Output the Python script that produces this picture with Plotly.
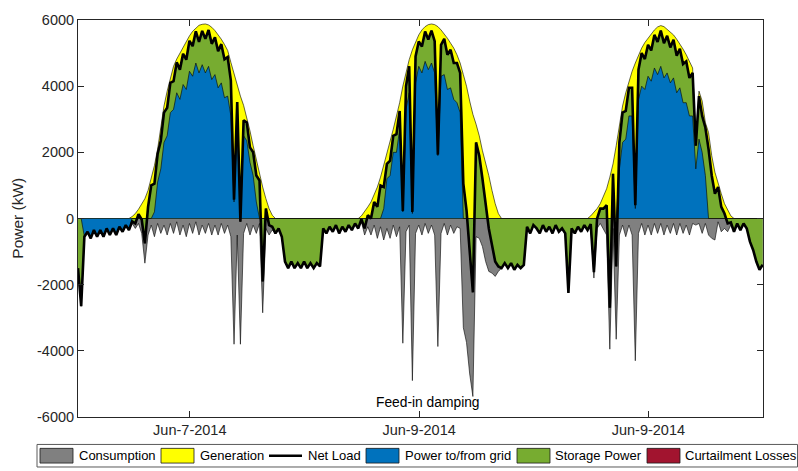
import plotly.graph_objects as go

# ---- data (20-minute samples over three days, hours from start) ----
hours = [i / 3 for i in range(216)]

generation = (
    [0] * 16 +
    [0, 60, 150, 280, 420, 600, 850, 1200, 1600, 2100, 2800, 3400, 3850, 4250, 4600, 4820,
     5000, 5180, 5350, 5520, 5660, 5760, 5840, 5870, 5880, 5850, 5780, 5680, 5560, 5420,
     5260, 5080, 4720, 4370, 4020, 3700, 3420, 3050, 2650, 2200, 1750, 1300, 950, 600, 300, 100, 0] +
    [0] * 9 +
    [0] * 16 +
    [0, 80, 200, 350, 500, 700, 950, 1250, 1600, 1950, 2350, 2700, 3100, 3500, 4000, 4400,
     4800, 5100, 5350, 5550, 5700, 5800, 5860, 5880, 5860, 5800, 5700, 5580, 5450, 5300,
     5150, 4950, 4700, 4350, 4000, 3550, 3150, 2850, 2500, 2050, 1700, 1300, 850, 450, 150, 0] +
    [0] * 10 +
    [0] * 16 +
    [0, 80, 180, 300, 450, 650, 900, 1250, 1650, 2200, 2800, 3400, 3800, 4150, 4450, 4700,
     4950, 5150, 5320, 5450, 5580, 5700, 5790, 5830, 5800, 5720, 5620, 5550, 5420, 5280,
     5120, 4950, 4750, 4550, 2400, 3850, 3550, 2900, 2600, 1900, 1400, 1050, 750, 450, 250, 80, 0] +
    [0] * 9
)

consumption = [
    # day 1
    -1500, -2650, -550, -400, -600, -350, -550, -350, -550, -300, -500, -300, -500, -250, -400, -200,
    -350, -150, -300, -150, -450, -1350, -500, -200, -550, -150, -450, -200, -500, -150, -450, -100,
    -500, -200, -550, -150, -450, -100, -500, -200, -450, -150, -500, -200, -500, -150, -450, -200,
    -550, -3800, -500, -3800, -450, -150, -500, -200, -450, -150, -2850, -300, -500, -350, -450, -300,
    -550, -1300, -1500, -1300, -1500, -1350, -1500, -1300,
    # day 2
    -1500, -1350, -1500, -1350, -1450, -300, -450, -250, -400, -200, -450, -250, -400, -200, -350, -150,
    -300, -100, -500, -250, -500, -200, -600, -250, -650, -300, -600, -200, -550, -250, -3770, -400,
    -200, -4900, -450, -200, -500, -150, -450, -200, -500, -3870, -450, -150, -500, -200, -450, -250,
    -300, -3300, -3750, -4700, -5380, -550, -600, -850, -1300, -1600, -1650, -1750, -1600, -1500, -1350, -1500,
    -1350, -1550, -1400, -1500, -1400, -250, -450, -200,
    # day 3
    -300, -450, -200, -400, -250, -450, -200, -400, -300, -450, -2250, -300, -450, -250, -400, -200,
    -350, -250, -1800, -300, -150, -350, -500, -3950, -300, -3650, -500, -200, -550, -200, -500, -4300,
    -450, -150, -500, -200, -500, -150, -450, -150, -500, -200, -450, -150, -500, -150, -450, -200,
    -500, -150, -200, -150, -450, -150, -500, -600, -650, -100, -400, -300, -400, -200, -400, -150,
    -350, -150, -300, -700, -950, -1300, -1550, -1400,
]

net_load = [
    # day 1
    -1500, -2650, -550, -400, -600, -350, -550, -350, -550, -300, -500, -300, -500, -250, -400, -200,
    -350, -90, -150, 130, -30, -750, 350, 1000, 1050, 1950, 2350, 3200, 3350, 4100, 4150, 4720,
    4500, 4980, 4800, 5370, 5210, 5660, 5340, 5670, 5430, 5700, 5280, 5480, 5060, 5270, 4810, 4880,
    4170, 570, 3520, -100, 2970, 2900, 2150, 2000, 1300, 1150, -1900, 300, -200, -250, -450, -300,
    -550, -1300, -1500, -1300, -1500, -1350, -1500, -1300,
    # day 2
    -1500, -1350, -1500, -1350, -1450, -300, -450, -250, -400, -200, -450, -250, -400, -200, -350, -150,
    -300, -20, -300, 100, 0, 500, 350, 1000, 950, 1650, 1750, 2500, 2550, 3250, 230, 4000,
    4600, 200, 4900, 5350, 5200, 5650, 5410, 5680, 5360, 1930, 5250, 5430, 4950, 5100, 4700, 4700,
    4400, 1050, 250, -1150, -2230, 2300, 1900, 1200, 400, -300, -800, -1300, -1450, -1500, -1350, -1500,
    -1350, -1550, -1400, -1500, -1400, -250, -450, -200,
    # day 3
    -300, -450, -200, -400, -250, -450, -200, -400, -300, -450, -2250, -300, -450, -250, -400, -200,
    -350, -170, -1620, 0, 300, 300, 400, -2700, 1350, -1450, 2300, 3200, 3250, 3950, 3950, 400,
    4500, 5000, 4820, 5250, 5080, 5550, 5340, 5680, 5300, 5520, 5170, 5400, 4920, 5130, 4670, 4750,
    4250, 4400, 2200, 3700, 3100, 2750, 2100, 1300, 750, 950, 350, 150, -150, -120, -400, -150,
    -350, -150, -300, -700, -950, -1300, -1550, -1400,
]

grid_power = (
    [0, 0, -550, -400, -600, -350, -550, -350, -550, -300, -500, -300, -500, -250, -400, -200, -350] +
    [0] * 7 +
    [200, 1100, 1500, 2300, 2500, 3200, 3300, 3800, 3600, 4050, 3900, 4450, 4300, 4700, 4400, 4650,
     4400, 4600, 4200, 4350, 3950, 4100, 3650, 3700, 3100, 500, 2900, 0, 2500, 2350, 1700, 1300, 500] +
    [0] * 15 +
    [0] * 24 +
    [300, 1200, 1300, 2000, 2000, 2700, 200, 3300, 3800, 150, 4100, 4600, 4400, 4750, 4500, 4700,
     4400, 1900, 4300, 4350, 3900, 3950, 3600, 3500, 3200] +
    [0] * 23 +
    [0] * 26 +
    [1500, 2300, 2400, 3100, 3100, 300, 3600, 4000, 3900, 4300, 4150, 4550, 4350, 4600, 4250, 4400,
     4100, 4250, 3800, 3950, 3500, 3500, 3100, 3100, 1500, 2400, 2000, 1300] +
    [0] * 18
)

curtailment = [0] * 216

tick_hours = [11.7, 35.7, 59.7]
tick_labels = ["Jun-7-2014", "Jun-9-2014", "Jun-9-2014"]
y_ticks = [-6000, -4000, -2000, 0, 2000, 4000, 6000]
y_labels = ["-6000", "-4000", "-2000", "0", "2000", "4000", "6000"]

# ---- styling ----
FONT = "Liberation Sans, Arial, Helvetica, sans-serif"
C_CONS = "#808080"
C_GEN = "#FFFF00"
C_GRID = "#0072BD"
C_STOR = "#77AC30"
C_CURT = "#A2142F"
AX = "#262626"
EDGE = dict(color="black", width=0.6)

fig = go.Figure()
fig.add_trace(go.Scatter(x=hours, y=generation, name="Generation", mode="lines",
                         fill="tozeroy", fillcolor=C_GEN, line=EDGE, showlegend=False))
fig.add_trace(go.Scatter(x=hours, y=consumption, name="Consumption", mode="lines",
                         fill="tozeroy", fillcolor=C_CONS, line=EDGE, showlegend=False))
fig.add_trace(go.Scatter(x=hours, y=net_load, name="Storage Power", mode="lines",
                         fill="tozeroy", fillcolor=C_STOR, line=EDGE, showlegend=False))
fig.add_trace(go.Scatter(x=hours, y=grid_power, name="Power to/from grid", mode="lines",
                         fill="tozeroy", fillcolor=C_GRID, line=EDGE, showlegend=False))
fig.add_trace(go.Scatter(x=hours, y=curtailment, name="Curtailment Losses", mode="lines",
                         fill="tozeroy", fillcolor=C_CURT, line=EDGE, showlegend=False))
fig.add_trace(go.Scatter(x=hours, y=net_load, name="Net Load", mode="lines",
                         line=dict(color="black", width=2.6), showlegend=False))

# ---- layout ----
L, R, T, B = 78, 35, 12, 54
W, H = 798, 471
PW, PH = W - L - R, H - T - B


def px(x):
    return (x - L) / PW


def py(y):
    return (H - B - y) / PH


fig.update_layout(
    width=W, height=H, autosize=False,
    margin=dict(l=L, r=R, t=T, b=B, pad=0),
    paper_bgcolor="white", plot_bgcolor="white",
    font=dict(family=FONT, color=AX, size=14.5),
    xaxis=dict(range=[0, 71.7], tickvals=tick_hours, ticktext=tick_labels,
               ticks="inside", ticklen=6, tickcolor=AX, tickwidth=1,
               showline=True, linecolor=AX, linewidth=1, mirror="ticks",
               showgrid=False, zeroline=False, tickfont=dict(size=14.5, color=AX)),
    yaxis=dict(range=[-6000, 6000], tickvals=y_ticks, ticktext=y_labels,
               ticks="inside", ticklen=6, tickcolor=AX, tickwidth=1,
               showline=True, linecolor=AX, linewidth=1, mirror="ticks",
               showgrid=False, zeroline=False, tickfont=dict(size=14.5, color=AX)),
    showlegend=False,
)

annotations = [
    dict(text="Power (kW)", x=px(18), y=py(214.7), xref="paper", yref="paper",
         textangle=-90, showarrow=False, font=dict(size=15.5, color=AX),
         xanchor="center", yanchor="middle"),
    dict(text="Feed-in damping", x=px(428), y=py(402.5), xref="paper", yref="paper",
         showarrow=False, font=dict(size=13.8, color="black"),
         xanchor="center", yanchor="middle"),
]

shapes = [
    dict(type="rect", xref="paper", yref="paper", x0=px(37), x1=px(797.5),
         y0=py(468), y1=py(445), line=dict(color="#5a5a5a", width=1), fillcolor="white"),
]

legend_items = [
    ("Consumption", C_CONS, 40, 77),
    ("Generation", C_GEN, 161, 198),
    ("Net Load", None, 269, 306),
    ("Power to/from grid", C_GRID, 366, 403),
    ("Storage Power", C_STOR, 517, 553),
    ("Curtailment Losses", C_CURT, 647, 683),
]
for label, color, x0, xt in legend_items:
    if color is None:
        shapes.append(dict(type="line", xref="paper", yref="paper", x0=px(x0), x1=px(x0 + 33),
                           y0=py(456.5), y1=py(456.5), line=dict(color="black", width=2.6)))
    else:
        shapes.append(dict(type="rect", xref="paper", yref="paper", x0=px(x0), x1=px(x0 + 33),
                           y0=py(464), y1=py(449), fillcolor=color,
                           line=dict(color="#1a1a1a", width=0.8)))
    annotations.append(dict(text=label, x=px(xt), y=py(456.5), xref="paper", yref="paper",
                            showarrow=False, xanchor="left", yanchor="middle",
                            font=dict(size=13, color="black")))

fig.update_layout(annotations=annotations, shapes=shapes)
fig.write_html("out.html")
